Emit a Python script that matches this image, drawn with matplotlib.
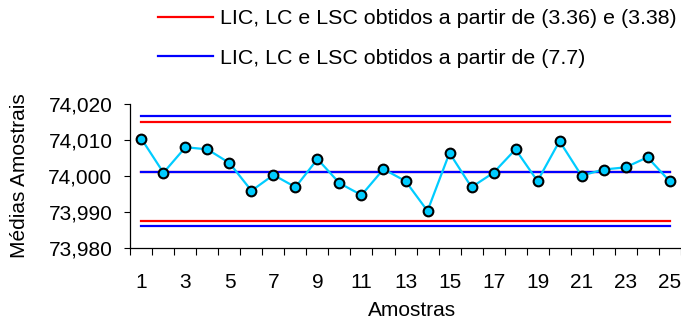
#Importing Libraries
import numpy as np
import matplotlib
matplotlib.use('Agg')
import matplotlib.pyplot as plt
from matplotlib.ticker import FuncFormatter, MultipleLocator, FixedLocator

#Data
amostras=list(range(1,26))
medias=[74.0103,74.0009,74.0080,74.0074,74.0036,73.9959,74.0003,73.9969,74.0047,73.9980,
        73.9947,74.0019,73.9986,73.9903,74.0064,73.9969,74.0009,74.0074,73.9986,74.0097,
        74.0001,74.0018,74.0024,74.0052,73.9986]
#Limits from (3.36) e (3.38)
lim_336=[73.9876,74.0010,74.0150]
#Limits from (7.7)
lim_77=[73.9860,74.0011,74.0166]
labels=['LIC, LC e LSC obtidos a partir de (3.36) e (3.38)','LIC, LC e LSC obtidos a partir de (7.7)']
x_ticks=list(range(1,26,2))

plt.rcParams['font.family']=['Liberation Sans','DejaVu Sans']
plt.rcParams['font.size']=15

fig=plt.figure(figsize=(6.81,3.34),dpi=100)
ax=fig.add_axes([0.1916,0.2575,0.8077,0.4311])

#Control limits
for i,v in enumerate(lim_336):
    ax.plot([0.99,25.01],[v,v],color='#FF0000',lw=1.6,label=labels[0] if i==0 else None,zorder=2)
for i,v in enumerate(lim_77):
    ax.plot([0.99,25.01],[v,v],color='#0000FF',lw=1.6,label=labels[1] if i==0 else None,zorder=2)

#Sample means
ax.plot(amostras,medias,color='#00CCFF',lw=1.6,marker='o',markersize=7,
        markerfacecolor='#00CCFF',markeredgecolor='black',markeredgewidth=1.5,zorder=3)

ax.set_xlim(0.5,25.5)
ax.set_ylim(73.980,74.020)
ax.yaxis.set_major_locator(MultipleLocator(0.010))
ax.yaxis.set_major_formatter(FuncFormatter(lambda v,p:('%.3f'%v).replace('.',',')))
ax.xaxis.set_major_locator(FixedLocator(x_ticks))
ax.xaxis.set_minor_locator(FixedLocator(np.arange(0.5,26,1)))
ax.tick_params(axis='x',which='major',length=0,pad=18,labelsize=15)
ax.tick_params(axis='x',which='minor',length=5,width=0.8,direction='out')
ax.tick_params(axis='y',length=4,width=0.8,direction='out',pad=9,labelsize=15)
ax.spines[['top','right']].set_visible(False)
ax.spines[['left','bottom']].set_linewidth(0.9)

ax.set_xlabel('Amostras',fontsize=15)
ax.xaxis.set_label_coords(0.512,-0.37)
ax.set_ylabel('Médias Amostrais',fontsize=15)
ax.yaxis.set_label_coords(-0.184,0.5)

leg=fig.legend(loc='upper left',bbox_to_anchor=(0.232,0.972),frameon=False,fontsize=15.4,
               handlelength=2.58,handletextpad=0.33,labelspacing=0.95,borderpad=0,borderaxespad=0)

fig.savefig('out.png',dpi=100)
